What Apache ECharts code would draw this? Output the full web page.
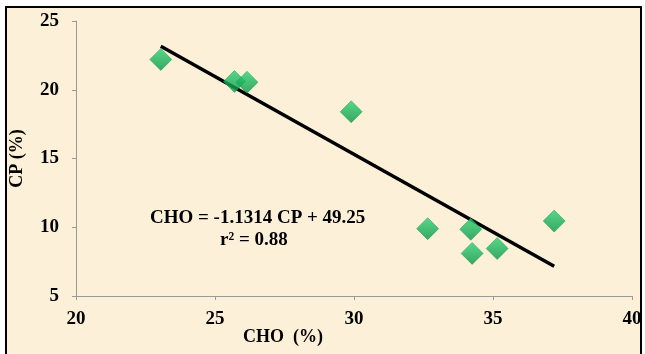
<!DOCTYPE html>
<html>
<head>
<meta charset="utf-8">
<script src="https://cdn.jsdelivr.net/npm/echarts@6/dist/echarts.min.js"></script>
<style>
  html, body { margin: 0; padding: 0; background: #fff; }
  #chart { width: 645px; height: 354px; }
</style>
</head>
<body>
<div id="chart"></div>
<script>
// observed points (CHO %, CP %)
const choValues = [23.05, 25.7, 26.15, 29.9, 32.65, 34.2, 34.25, 35.15, 37.2];
const cpValues = [22.2, 20.6, 20.55, 18.4, 9.9, 9.85, 8.1, 8.45, 10.45];

// regression line end points
const trendX = [23.05, 37.2];
const trendY = [23.17, 7.16];

const xTicks = { min: 20, max: 40, step: 5 };
const yTicks = { min: 5, max: 25, step: 5 };

const equationText = 'CHO = -1.1314 CP + 49.25';
const rSquaredText = 'r\u00b2 = 0.88';

const serif = '"Liberation Serif", "Times New Roman", serif';

const myChart = echarts.init(document.getElementById('chart'), null, { renderer: 'canvas' });

const axisText = {
  color: '#000',
  fontFamily: serif,
  fontWeight: 'bold',
  fontSize: 19,
};

myChart.setOption({
  backgroundColor: '#ffffff',
  animation: false,
  grid: {
    left: 75,
    right: 13,
    top: 21,
    bottom: 58,
  },
  graphic: [
    {
      type: 'rect',
      z: -10,
      silent: true,
      shape: { x: 6, y: 7, width: 635, height: 360 },
      style: { fill: '#fcf1d8', stroke: '#000', lineWidth: 2 },
    },
    {
      type: 'text',
      left: 243,
      top: 328,
      z: 10,
      style: {
        text: 'CHO  (%)',
        fill: '#000',
        font: `bold 18px ${serif}`,
      },
    },
    {
      type: 'text',
      left: 150,
      top: 209,
      z: 10,
      style: {
        text: equationText,
        fill: '#000',
        font: `bold 19px ${serif}`,
      },
    },
    {
      type: 'text',
      left: 220,
      top: 231,
      z: 10,
      style: {
        text: rSquaredText,
        fill: '#000',
        font: `bold 19px ${serif}`,
      },
    },
  ],
  xAxis: {
    type: 'value',
    min: xTicks.min,
    max: xTicks.max,
    interval: xTicks.step,
    axisLine: { show: true, lineStyle: { color: '#999', width: 1 } },
    axisTick: { show: true, length: 4, lineStyle: { color: '#999' } },
    axisLabel: { ...axisText, margin: 14 },
    splitLine: { show: false },
  },
  yAxis: {
    type: 'value',
    min: yTicks.min,
    max: yTicks.max,
    interval: yTicks.step,
    name: 'CP (%)',
    nameLocation: 'middle',
    nameGap: 50,
    nameTextStyle: { ...axisText, fontSize: 18 },
    axisLine: { show: true, lineStyle: { color: '#999', width: 1 } },
    axisTick: { show: true, length: 4, lineStyle: { color: '#999' } },
    axisLabel: { ...axisText, margin: 17 },
    splitLine: { show: false },
  },
  series: [
    {
      type: 'line',
      data: trendX.map((x, i) => [x, trendY[i]]),
      symbol: 'none',
      z: 3,
      lineStyle: { color: '#000', width: 3.5 },
    },
    {
      type: 'scatter',
      data: choValues.map((x, i) => [x, cpValues[i]]),
      symbol: 'diamond',
      symbolSize: [22, 22],
      z: 4,
      itemStyle: {
        color: new echarts.graphic.LinearGradient(0, 0, 0, 1, [
          { offset: 0, color: '#2fd274' },
          { offset: 0.5, color: '#18b35c' },
          { offset: 1, color: '#0c9248' },
        ]),
        borderColor: '#0f9a4f',
        borderWidth: 0.6,
      },
    },
  ],
});
</script>
</body>
</html>
